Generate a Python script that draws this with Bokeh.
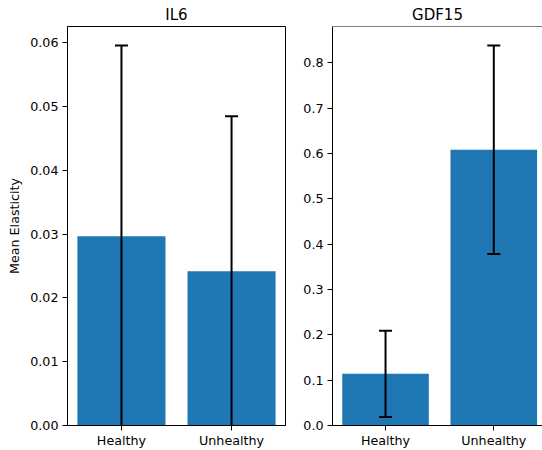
from bokeh.plotting import figure
from bokeh.layouts import row
from bokeh.models import Range1d, FixedTicker, NumeralTickFormatter, Span, ColumnDataSource
from bokeh.embed import file_html
from bokeh.resources import INLINE

groups = ["Healthy", "Unhealthy"]
il6_mean = [0.0297, 0.0242]
il6_err = [0.0299, 0.0243]
gdf15_mean = [0.114, 0.608]
gdf15_err = [0.095, 0.230]
il6_ticks = [0.00, 0.01, 0.02, 0.03, 0.04, 0.05, 0.06]
gdf15_ticks = [0.0, 0.1, 0.2, 0.3, 0.4, 0.5, 0.6, 0.7, 0.8]

FONT = "DejaVu Sans"
BLUE = "#1f77b4"


def panel(title, means, errs, ticks, fmt, width, bl, br, x_end, ylabel, outline):
    xs = list(range(len(groups)))
    upper = [m + e for m, e in zip(means, errs)]
    lower = [m - e for m, e in zip(means, errs)]
    y_end = max(upper) * 1.05
    src = ColumnDataSource(dict(x=xs, top=means, up=upper, lo=lower))
    p = figure(width=width, height=450, output_backend="svg", toolbar_location=None,
               x_range=Range1d(-0.49, x_end), y_range=Range1d(0, y_end),
               min_border_left=bl, min_border_right=br, min_border_top=26, min_border_bottom=25,
               title=title)
    p.title.text_font = FONT
    p.title.text_font_size = "15px"
    p.title.text_font_style = "normal"
    p.title.align = "center"
    p.title.text_color = "black"
    p.title.standoff = 5
    p.vbar(x="x", top="top", width=0.8, source=src, fill_color=BLUE, line_color=None)
    p.segment(x0="x", y0="lo", x1="x", y1="up", source=src, line_color="black", line_width=2)
    p.scatter(x="x", y="up", source=src, marker="dash", size=13, line_color="black", line_width=2)
    p.scatter(x="x", y="lo", source=src, marker="dash", size=13, line_color="black", line_width=2)

    p.xgrid.visible = False
    p.ygrid.visible = False
    p.background_fill_color = "white"
    p.border_fill_color = "white"
    if outline:
        p.outline_line_color = "black"
        p.outline_line_width = 1
    else:
        p.outline_line_color = None
        p.add_layout(Span(location=y_end, dimension="width", line_color="black", line_width=1))

    p.xaxis.ticker = FixedTicker(ticks=xs)
    p.xaxis.major_label_overrides = {i: g for i, g in enumerate(groups)}
    p.yaxis.ticker = FixedTicker(ticks=ticks)
    p.yaxis.formatter = NumeralTickFormatter(format=fmt)
    for ax in (p.xaxis[0], p.yaxis[0]):
        ax.axis_line_color = "black"
        ax.axis_line_width = 1
        ax.major_tick_line_color = "black"
        ax.major_tick_line_width = 1
        ax.major_tick_out = 5
        ax.major_tick_in = 0
        ax.minor_tick_line_color = None
        ax.major_label_text_font = FONT
        ax.major_label_text_font_size = "12.7px"
        ax.major_label_text_color = "black"
        ax.major_label_standoff = 4
    p.xaxis.major_label_standoff = 2
    if ylabel:
        p.yaxis.axis_label = ylabel
        p.yaxis.axis_label_text_font = FONT
        p.yaxis.axis_label_text_font_size = "12.7px"
        p.yaxis.axis_label_text_font_style = "normal"
        p.yaxis.axis_label_text_color = "black"
        p.yaxis.axis_label_standoff = 5
    return p


left = panel("IL6", il6_mean, il6_err, il6_ticks, "0.00", 300, 67, 15, 1.49, "Mean Elasticity", True)
right = panel("GDF15", gdf15_mean, gdf15_err, gdf15_ticks, "0.0", 242, 30, 0, 1.45, None, False)

layout = row(left, right, spacing=0)
open("out.html", "w").write(file_html(layout, INLINE))
